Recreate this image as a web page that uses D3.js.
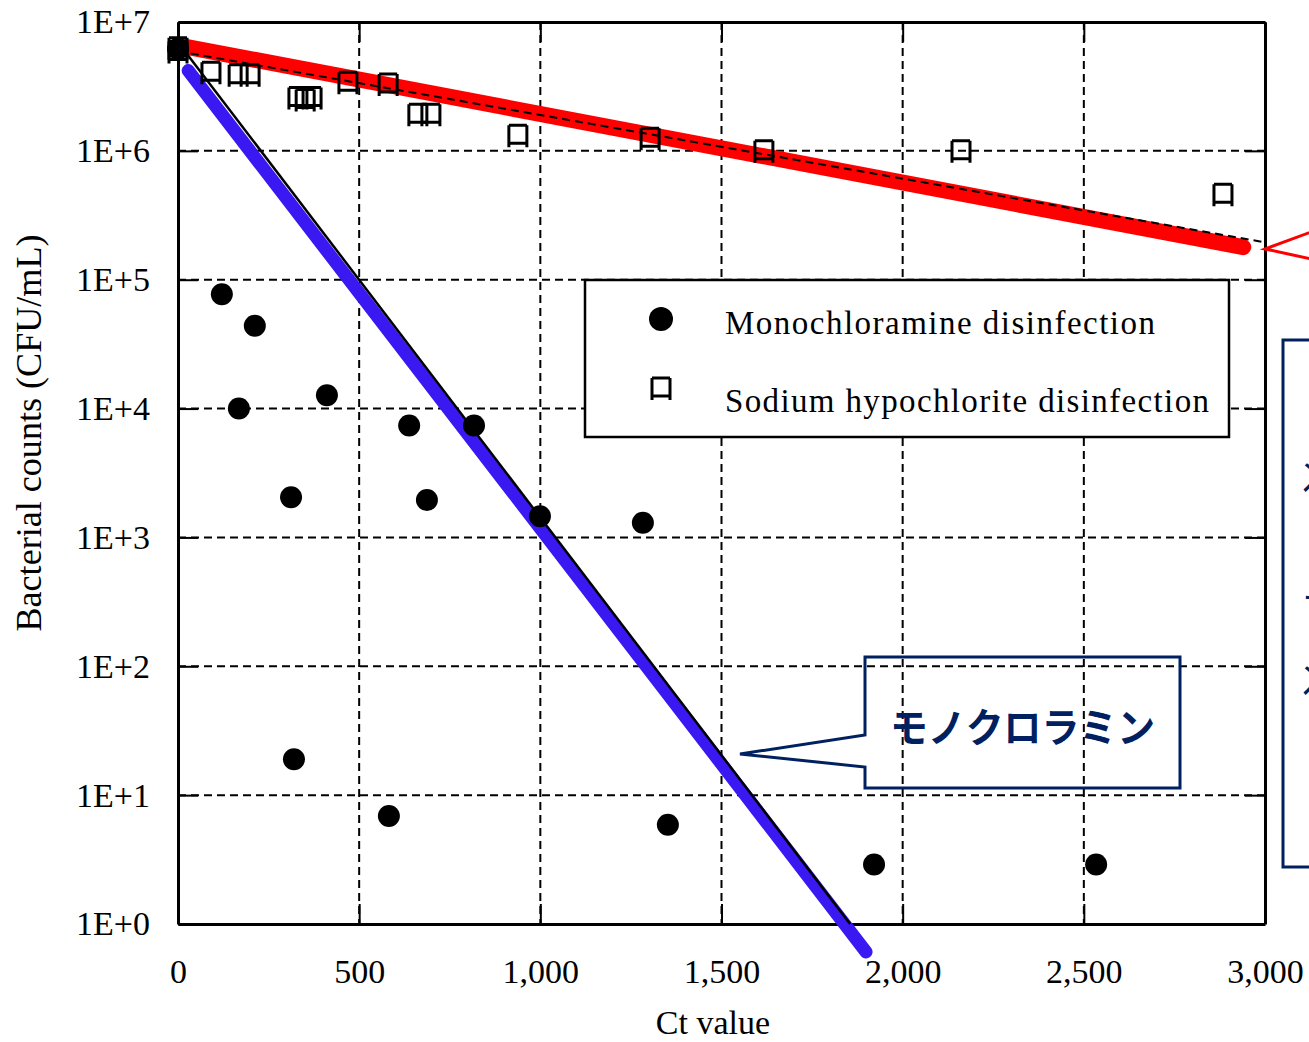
<!DOCTYPE html>
<html>
<head>
<meta charset="utf-8">
<script src="https://cdn.jsdelivr.net/npm/d3@7"></script>
<style>
  body { margin: 0; background: #fff; }
  svg { display: block; }
  text { font-family: "Liberation Serif", "Times New Roman", serif; fill: #000; }
  .jp { font-family: "Noto Sans CJK JP", sans-serif; }
</style>
</head>
<body>
<div class="scatter"></div>
<script>
// monochloramine disinfection (filled circles)
var ctMono = [0, 121, 212, 168, 411, 312, 638, 687, 817, 999, 1283, 320, 582, 1352, 1921, 2534];
var countMono = [6.2e6, 7.7e4, 4.4e4, 1.0e4, 1.27e4, 2.05e3, 7.4e3, 1.95e3, 7.4e3, 1.46e3, 1.3e3, 19, 6.9, 5.9, 2.9, 2.9];

// sodium hypochlorite disinfection (open squares)
var ctNaClO = [0, 0, 91, 166, 199, 331, 351, 370, 469, 580, 662, 698, 938, 1303, 1617, 2161, 2884];
var countNaClO = [6.3e6, 5.9e6, 4.07e6, 3.9e6, 3.9e6, 2.6e6, 2.5e6, 2.6e6, 3.4e6, 3.3e6, 1.92e6, 1.92e6, 1.32e6, 1.25e6, 1.0e6, 1.0e6, 4.6e5];

// fitted lines (end points)
var redFitCt = [0, 2940];
var redFitCount = [6.6e6, 1.79e5];
var dashFitCt = [0, 3000];
var dashFitCount = [5.93e6, 1.95e5];
var blueFitCt = [28, 1899];
var blueFitCount = [4.2e6, 0.607];
var blackFitCt = [0, 1855];
var blackFitCount = [6.97e6, 1];

// ticks
var xTicks = [0, 500, 1000, 1500, 2000, 2500, 3000];
var yTicks = [1, 10, 100, 1e3, 1e4, 1e5, 1e6, 1e7];
var yTickLabels = ["1E+0", "1E+1", "1E+2", "1E+3", "1E+4", "1E+5", "1E+6", "1E+7"];

var legendLabels = ["Monochloramine disinfection", "Sodium hypochlorite disinfection"];

var svgWidth = 1309;
var svgHeight = 1042;
var margin = { top: 22, right: 44, bottom: 118, left: 178 };
var width = svgWidth - margin.left - margin.right;
var height = svgHeight - margin.top - margin.bottom;

var svg = d3.select(".scatter")
  .append("svg")
  .attr("width", svgWidth)
  .attr("height", svgHeight);

var chartGroup = svg.append("g")
  .attr("transform", `translate(${margin.left}, ${margin.top})`);

var xScale = d3.scaleLinear().domain([0, 3000]).range([0, width]);
var yScale = d3.scaleLog().domain([1, 1e7]).range([height, 0]);

// dashed grid
chartGroup.selectAll(".vgrid")
  .data(xTicks.slice(1, -1))
  .enter()
  .append("line")
  .attr("x1", d => xScale(d)).attr("x2", d => xScale(d))
  .attr("y1", 0).attr("y2", height)
  .attr("stroke", "#000").attr("stroke-width", 2)
  .attr("stroke-dasharray", "8,5");

chartGroup.selectAll(".hgrid")
  .data(yTicks.slice(1, -1))
  .enter()
  .append("line")
  .attr("x1", 0).attr("x2", width)
  .attr("y1", d => yScale(d)).attr("y2", d => yScale(d))
  .attr("stroke", "#000").attr("stroke-width", 2)
  .attr("stroke-dasharray", "8,5");

// axes, ticks pointing inside on all four sides
var xAxis = d3.axisBottom(xScale).tickValues(xTicks).tickSizeInner(-20).tickSizeOuter(0)
  .tickFormat(d3.format(","));
var xAxisTop = d3.axisTop(xScale).tickValues(xTicks).tickSizeInner(-20).tickSizeOuter(0).tickFormat("");
var yAxis = d3.axisLeft(yScale).tickValues(yTicks).tickSizeInner(-20).tickSizeOuter(0)
  .tickFormat((d, i) => yTickLabels[i]);
var yAxisRight = d3.axisRight(yScale).tickValues(yTicks).tickSizeInner(-20).tickSizeOuter(0).tickFormat("");

function styleAxis(g) {
  g.select(".domain").attr("stroke", "#000").attr("stroke-width", 3);
  g.selectAll(".tick line").attr("stroke", "#000").attr("stroke-width", 2);
  g.selectAll("text").attr("fill", "#000")
    .style("font-family", "'Liberation Serif', serif").style("font-size", "34px");
}

chartGroup.append("g").attr("transform", `translate(0, ${height})`).call(xAxis).call(styleAxis)
  .selectAll("text").attr("dy", 0).attr("y", 59);
chartGroup.append("g").call(xAxisTop).call(styleAxis);
chartGroup.append("g").call(yAxis).call(styleAxis)
  .selectAll("text").attr("x", -28).attr("dy", "0.32em");
chartGroup.append("g").attr("transform", `translate(${width}, 0)`).call(yAxisRight).call(styleAxis);

// fit lines
var fitLine = d3.line()
  .x(d => xScale(d[0]))
  .y(d => yScale(d[1]));

chartGroup.append("path")
  .datum(d3.zip(redFitCt, redFitCount))
  .attr("d", fitLine)
  .attr("fill", "none").attr("stroke", "#ff0000")
  .attr("stroke-width", 16).attr("stroke-linecap", "round");

chartGroup.append("path")
  .datum(d3.zip(dashFitCt, dashFitCount))
  .attr("d", fitLine)
  .attr("fill", "none").attr("stroke", "#000")
  .attr("stroke-width", 2).attr("stroke-dasharray", "8,5");

chartGroup.append("path")
  .datum(d3.zip(blueFitCt, blueFitCount))
  .attr("d", fitLine)
  .attr("fill", "none").attr("stroke", "#3a18f2")
  .attr("stroke-width", 13).attr("stroke-linecap", "round");

chartGroup.append("path")
  .datum(d3.zip(blackFitCt, blackFitCount))
  .attr("d", fitLine)
  .attr("fill", "none").attr("stroke", "#000")
  .attr("stroke-width", 2.5);

// square marker with little feet, like the original
var squarePath = "M-9,-10H9M-9,-10V12M9,-10V12M-9,8H9";

chartGroup.selectAll(".naclo")
  .data(d3.zip(ctNaClO, countNaClO))
  .enter()
  .append("path")
  .attr("transform", d => `translate(${xScale(d[0])}, ${yScale(d[1])})`)
  .attr("d", squarePath)
  .attr("fill", "none").attr("stroke", "#000").attr("stroke-width", 3);

chartGroup.selectAll(".mono")
  .data(d3.zip(ctMono, countMono))
  .enter()
  .append("circle")
  .attr("cx", d => xScale(d[0]))
  .attr("cy", d => yScale(d[1]))
  .attr("r", 11)
  .attr("fill", "#000");

// legend
var legend = svg.append("g");
legend.append("rect")
  .attr("x", 585).attr("y", 280).attr("width", 644).attr("height", 157)
  .attr("fill", "#fff").attr("stroke", "#000").attr("stroke-width", 2.5);
legend.append("circle").attr("cx", 661).attr("cy", 319).attr("r", 12).attr("fill", "#000");
legend.append("path").attr("transform", "translate(661, 388)").attr("d", squarePath)
  .attr("fill", "none").attr("stroke", "#000").attr("stroke-width", 3);
legend.selectAll(".legText")
  .data(legendLabels)
  .enter()
  .append("text")
  .attr("x", 725)
  .attr("y", (d, i) => 334 + i * 78)
  .attr("font-size", "33px")
  .attr("textLength", (d, i) => i == 0 ? 430 : 484)
  .attr("lengthAdjust", "spacing")
  .text(d => d);

// axis titles
svg.append("text")
  .attr("transform", "translate(41, 433) rotate(-90)")
  .attr("text-anchor", "middle")
  .attr("font-size", "35px")
  .attr("textLength", 397)
  .attr("lengthAdjust", "spacingAndGlyphs")
  .text("Bacterial counts (CFU/mL)");

svg.append("text")
  .attr("x", 713).attr("y", 1034)
  .attr("text-anchor", "middle")
  .attr("font-size", "34px")
  .text("Ct value");

// callouts
var navy = "#002060";

svg.append("path")
  .attr("d", "M865,735V657H1180V788H865V767L740,754Z")
  .attr("fill", "none").attr("stroke", navy).attr("stroke-width", 3)
  .attr("stroke-linejoin", "miter");
svg.append("text")
  .attr("class", "jp")
  .attr("x", 890).attr("y", 742)
  .attr("font-size", "40px").attr("font-weight", "bold")
  .attr("textLength", 265).attr("lengthAdjust", "spacingAndGlyphs")
  .style("fill", navy)
  .text("モノクロラミン");

// right side callouts, cut off by the page edge
svg.append("path")
  .attr("d", "M1330,225L1265,249L1330,263")
  .attr("fill", "none").attr("stroke", "#ff0000").attr("stroke-width", 3);

svg.append("rect")
  .attr("x", 1283).attr("y", 340).attr("width", 200).attr("height", 527)
  .attr("fill", "none").attr("stroke", navy).attr("stroke-width", 3);

svg.selectAll(".rightText")
  .data(["次亜塩素酸", "ナトリウム", "次亜塩素酸", "ド"])
  .enter()
  .append("text")
  .attr("class", "jp")
  .attr("x", 1302)
  .attr("y", (d, i) => [494, 617, 697, 752][i])
  .attr("font-size", "40px")
  .style("fill", navy)
  .text(d => d);
</script>
</body>
</html>
